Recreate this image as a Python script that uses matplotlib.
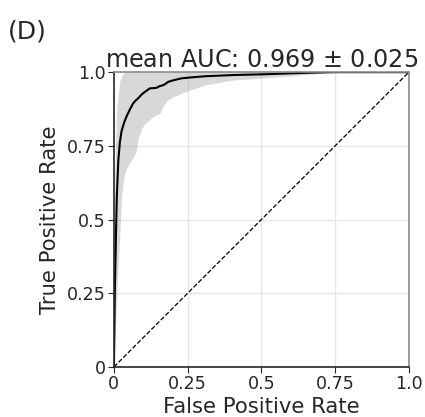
import matplotlib
matplotlib.use("Agg")
import matplotlib.pyplot as plt

# mean ROC curve (fpr grid, mean tpr and +/- std band)
mean_fpr = [0.0, 0.003, 0.007, 0.01, 0.015, 0.02, 0.026, 0.035, 0.043, 0.055,
            0.065, 0.075, 0.082, 0.095, 0.105, 0.122, 0.135, 0.145, 0.156, 0.165,
            0.173, 0.184, 0.2, 0.229, 0.26, 0.308, 0.4, 0.518, 0.6, 0.664,
            0.742, 0.8, 0.9, 1.0]
mean_tpr = [0.0, 0.25, 0.45, 0.58, 0.70, 0.76, 0.80, 0.83, 0.85, 0.875,
            0.894, 0.905, 0.911, 0.925, 0.933, 0.945, 0.946, 0.947, 0.953, 0.955,
            0.959, 0.967, 0.972, 0.979, 0.982, 0.986, 0.99, 0.993, 0.996, 0.998,
            1.0, 1.0, 1.0, 1.0]
tpr_upper = [0.0, 0.6, 0.8, 0.88, 0.93, 0.97, 0.985, 0.998, 1.0, 1.0,
             1.0, 1.0, 1.0, 1.0, 1.0, 1.0, 1.0, 1.0, 1.0, 1.0,
             1.0, 1.0, 1.0, 1.0, 1.0, 1.0, 1.0, 1.0, 1.0, 1.0,
             1.0, 1.0, 1.0, 1.0]
tpr_lower = [0.0, 0.08, 0.17, 0.25, 0.35, 0.45, 0.58, 0.65, 0.675, 0.695,
             0.71, 0.73, 0.775, 0.81, 0.825, 0.84, 0.85, 0.856, 0.86, 0.88,
             0.894, 0.907, 0.916, 0.928, 0.94, 0.956, 0.973, 0.981, 0.987, 0.993,
             0.998, 1.0, 1.0, 1.0]

mean_auc = 0.969
std_auc = 0.025
ticks = [0, 0.25, 0.5, 0.75, 1.0]
tick_labels = ["0", "0.25", "0.5", "0.75", "1.0"]

TXT = "#262626"

fig = plt.figure(figsize=(4.25, 4.17), dpi=100)
ax = fig.add_axes([0.268, 0.12, 0.694, 0.707])

ax.grid(True, color="#e6e6e6", linewidth=1)
ax.set_axisbelow(True)

ax.fill_between(mean_fpr, tpr_lower, tpr_upper, color="grey", alpha=0.3, linewidth=0)
ax.plot(mean_fpr, mean_tpr, color="black", linewidth=1.5)
ax.plot([0, 1], [0, 1], linestyle="--", color="black", linewidth=0.9)

ax.set_xlim(0, 1)
ax.set_ylim(0, 1)
ax.set_xticks(ticks)
ax.set_xticklabels(tick_labels)
ax.set_yticks(ticks)
ax.set_yticklabels(tick_labels)
ax.tick_params(labelsize=12.6, colors=TXT, length=4, width=0.8, pad=2)

for side in ["top", "right"]:
    ax.spines[side].set_color("#8c8c8c")
for side in ["left", "bottom"]:
    ax.spines[side].set_color("#262626")
for sp in ax.spines.values():
    sp.set_linewidth(1.2)

ax.set_xlabel("False Positive Rate", fontsize=15.2, color=TXT, labelpad=3)
ax.set_ylabel("True Positive Rate", fontsize=15.2, color=TXT, labelpad=5)
ax.set_title("mean AUC: %.3f $\\pm$ %.3f" % (mean_auc, std_auc), fontsize=17.2,
             color=TXT, pad=3)

fig.text(0.018, 0.925, "(D)", fontsize=18, color=TXT, va="center", ha="left")

fig.savefig("out.png", dpi=100)
